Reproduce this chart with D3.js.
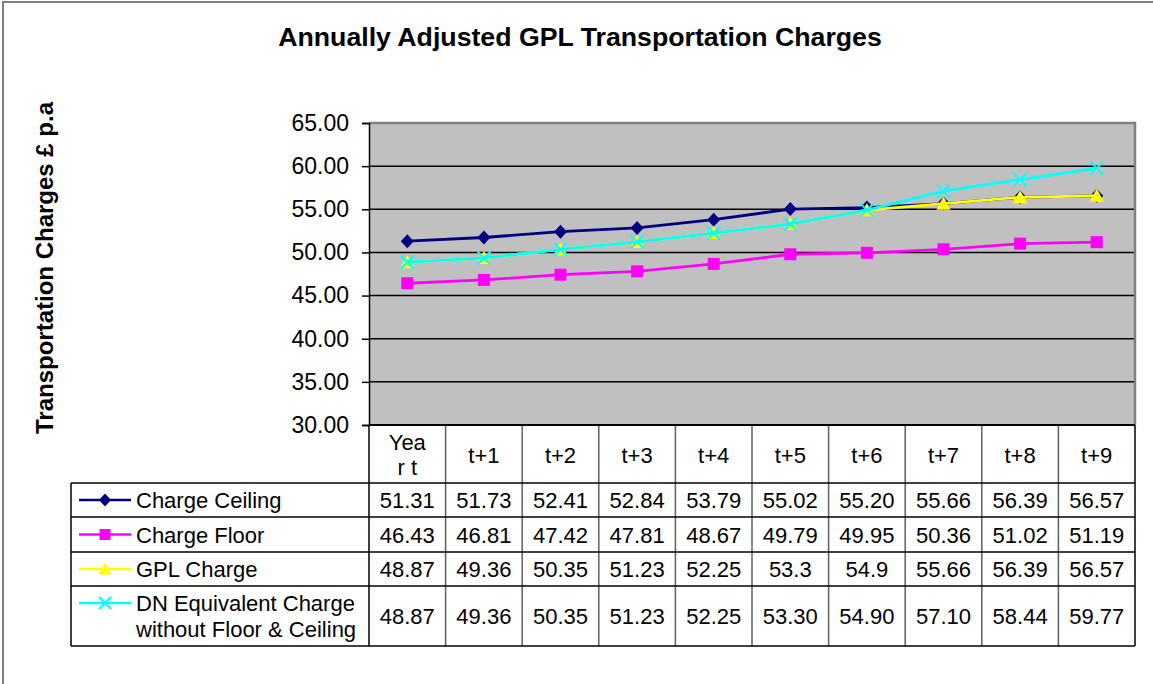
<!DOCTYPE html>
<html><head><meta charset="utf-8">
<script src="https://cdn.jsdelivr.net/npm/d3@7/dist/d3.min.js"></script>
<style>body{margin:0;background:#fff}svg{display:block;font-family:"Liberation Sans",Arial,sans-serif}</style>
</head><body>
<script>
const categories = ["Year t","t+1","t+2","t+3","t+4","t+5","t+6","t+7","t+8","t+9"];
const headerLabels = [["Yea","r t"],["t+1"],["t+2"],["t+3"],["t+4"],["t+5"],["t+6"],["t+7"],["t+8"],["t+9"]];
const chargeCeiling = [51.31,51.73,52.41,52.84,53.79,55.02,55.20,55.66,56.39,56.57];
const chargeFloor = [46.43,46.81,47.42,47.81,48.67,49.79,49.95,50.36,51.02,51.19];
const gplCharge = [48.87,49.36,50.35,51.23,52.25,53.3,54.9,55.66,56.39,56.57];
const dnCharge = [48.87,49.36,50.35,51.23,52.25,53.30,54.90,57.10,58.44,59.77];
const gplLabels = ["48.87","49.36","50.35","51.23","52.25","53.3","54.9","55.66","56.39","56.57"];
const yTicks = [30,35,40,45,50,55,60,65];
const seriesNames = [["Charge Ceiling"],["Charge Floor"],["GPL Charge"],["DN Equivalent Charge","without Floor & Ceiling"]];

const series = [
  {name: seriesNames[0], values: chargeCeiling, labels: chargeCeiling.map(v=>v.toFixed(2)), color:"#000080", marker:"diamond"},
  {name: seriesNames[1], values: chargeFloor, labels: chargeFloor.map(v=>v.toFixed(2)), color:"#FF00FF", marker:"square"},
  {name: seriesNames[2], values: gplCharge, labels: gplLabels, color:"#FFFF00", marker:"triangle"},
  {name: seriesNames[3], values: dnCharge, labels: dnCharge.map(v=>v.toFixed(2)), color:"#00FFFF", marker:"x"}
];

const W=1153,H=684;
const svg=d3.select("body").append("svg").attr("width",W).attr("height",H);
svg.append("rect").attr("x",3).attr("y",2).attr("width",W+5).attr("height",H+5).attr("fill","#fff").attr("stroke","#808080").attr("stroke-width",2);

const plot={l:369,r:1135,t:123,b:425};
const x=d3.scaleBand().domain(categories).range([plot.l,plot.r]);
const y=d3.scaleLinear().domain([30,65]).range([plot.b,plot.t]);
const cx=c=>x(c)+x.bandwidth()/2;

svg.append("text").attr("x",580).attr("y",46).attr("text-anchor","middle").attr("font-weight","bold").attr("font-size",26.7).text("Annually Adjusted GPL Transportation Charges");

svg.append("text").attr("transform","translate(53,268) rotate(-90)").attr("text-anchor","middle").attr("font-weight","bold").attr("font-size",24).text("Transportation Charges £ p.a");

svg.append("rect").attr("x",plot.l).attr("y",plot.t).attr("width",plot.r-plot.l).attr("height",plot.b-plot.t).attr("fill","#C0C0C0");
svg.append("g").selectAll("line").data(yTicks.filter(t=>t>30&&t<65)).join("line")
  .attr("x1",plot.l).attr("x2",plot.r).attr("y1",d=>y(d)).attr("y2",d=>y(d)).attr("stroke","#000").attr("stroke-width",1.5);
svg.append("path").attr("d",`M${plot.l},${plot.t}H${plot.r}V${plot.b}`).attr("fill","none").attr("stroke","#808080").attr("stroke-width",2.5);

const yAxis=d3.axisLeft(y).tickValues(yTicks).tickFormat(d3.format(".2f")).tickSize(7).tickPadding(13);
const ga=svg.append("g").attr("transform",`translate(${plot.l},0)`).call(yAxis);
ga.select(".domain").attr("stroke","#000").attr("stroke-width",1.5);
ga.selectAll(".tick line").attr("stroke","#000").attr("stroke-width",1.5);
ga.selectAll(".tick text").attr("font-size",23).attr("fill","#000").attr("font-family","Liberation Sans, Arial, sans-serif");

function drawMarker(g,type,color,size){
  if(type==="diamond"){
    const s=size/2;
    g.append("path").attr("d",`M0,${-s-0.5}L${s},0L0,${s+0.5}L${-s},0Z`).attr("fill",color);
  } else if(type==="square"){
    g.append("rect").attr("x",-size/2).attr("y",-size/2).attr("width",size).attr("height",size).attr("fill",color);
  } else if(type==="triangle"){
    const s=size*0.55;
    g.append("path").attr("d",`M0,${-s}L${s},${s*0.85}L${-s},${s*0.85}Z`).attr("fill",color);
  } else {
    const s=size/2;
    g.append("path").attr("d",`M${-s},${-s}L${s},${s}M${-s},${s}L${s},${-s}`).attr("stroke",color).attr("stroke-width",2).attr("fill","none");
  }
}

const line=d3.line().x((d,i)=>cx(categories[i])).y(d=>y(d));
series.forEach(s=>{
  svg.append("path").datum(s.values).attr("d",line).attr("fill","none").attr("stroke",s.color).attr("stroke-width",2.8);
  s.values.forEach((v,i)=>{
    const g=svg.append("g").attr("transform",`translate(${cx(categories[i])},${y(v)})`);
    drawMarker(g,s.marker,s.color,s.marker==="square"?12:13);
  });
});

const tbl={l:71,rows:[483,517,552,586,646]};
const FS=22;
const tg=svg.append("g");
headerLabels.forEach((lines,i)=>{
  const c=categories[i];
  if(lines.length===1){
    tg.append("text").attr("x",cx(c)).attr("y",463).attr("text-anchor","middle").attr("font-size",FS).text(lines[0]);
  } else {
    lines.forEach((t,j)=>tg.append("text").attr("x",cx(c)).attr("y",450+j*25).attr("text-anchor","middle").attr("font-size",FS).text(t));
  }
});
series.forEach((s,r)=>{
  const yc=(tbl.rows[r]+tbl.rows[r+1])/2;
  s.labels.forEach((t,i)=>{
    tg.append("text").attr("x",cx(categories[i])).attr("y",yc+8).attr("text-anchor","middle").attr("font-size",FS).text(t);
  });
  const lg=tg.append("g").attr("transform",`translate(0,${s.name.length>1?603:yc})`);
  lg.append("line").attr("x1",79).attr("x2",131).attr("stroke",s.color).attr("stroke-width",2.5);
  const mg=lg.append("g").attr("transform","translate(105,0)");
  drawMarker(mg,s.marker,s.color,s.marker==="square"?11:12);
  s.name.forEach((t,j)=>lg.append("text").attr("x",136).attr("y",8+j*26).attr("font-size",FS).text(t));
});
const vx=categories.map(c=>x(c)).concat([plot.r]);
vx.forEach((vv,i)=>{
  tg.append("line").attr("x1",vv).attr("x2",vv).attr("y1",plot.b).attr("y2",tbl.rows[4]).attr("stroke",i===0||i===vx.length-1?"#000":"#606060").attr("stroke-width",1.5);
});
tg.append("line").attr("x1",tbl.l).attr("x2",tbl.l).attr("y1",tbl.rows[0]).attr("y2",tbl.rows[4]).attr("stroke","#000").attr("stroke-width",1.5);
tbl.rows.forEach(ry=>{
  tg.append("line").attr("x1",tbl.l).attr("x2",plot.r).attr("y1",ry).attr("y2",ry).attr("stroke","#000").attr("stroke-width",1.5);
});
tg.append("line").attr("x1",plot.l).attr("x2",plot.r).attr("y1",plot.b).attr("y2",plot.b).attr("stroke","#000").attr("stroke-width",2);
</script>
</body></html>
